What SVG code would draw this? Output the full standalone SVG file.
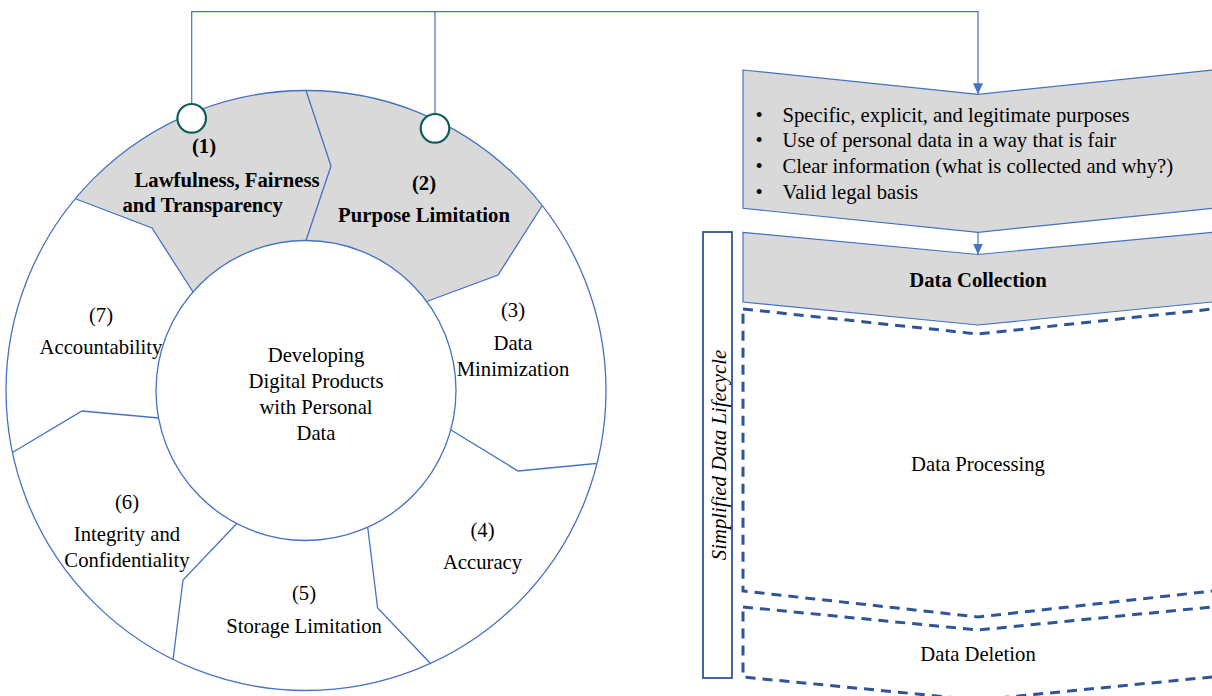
<svg xmlns="http://www.w3.org/2000/svg" width="1212" height="696" viewBox="0 0 1212 696">
  <defs>
    <marker id="arrow" markerUnits="userSpaceOnUse" markerWidth="10" markerHeight="11" refX="11" refY="5" orient="auto">
      <path d="M0,0 L11,5 L0,10 Z" fill="#4472C4"/>
    </marker>
    <style>
      text { font-family: "Liberation Serif", "Times New Roman", serif; font-size: 20.7px; fill: #000; }
      .b { font-weight: bold; }
      .c { text-anchor: middle; }
      .ring { fill: none; stroke: #4472C4; stroke-width: 1.3; }
      .seg { fill: #D9D9D9; stroke: none; }
      .div { fill: none; stroke: #4472C4; stroke-width: 1.3; stroke-linejoin: miter; }
      .chev { fill: #D9D9D9; stroke: #4472C4; stroke-width: 1.2; }
      .dash { fill: none; stroke: #2F5597; stroke-width: 3; stroke-dasharray: 10 7; }
      .conn { fill: none; stroke: #4472C4; stroke-width: 1.2; }
      .port { fill: #fff; stroke: #0F5A5A; stroke-width: 2.2; }
    </style>
  </defs>

  <rect width="1212" height="696" fill="#fff"/>

  <!-- principle ring -->
  <g id="principles-ring">
    <path class="seg" d="M76,199 A300 300 0 0 1 306,90.5 L331,166 L306,240.5 A150 150 0 0 0 193,292 L152,228 Z"/>
    <path class="seg" d="M306,90.5 A300 300 0 0 1 542,206 L498,275 L426.7,301.5 A150 150 0 0 0 306,240.5 L331,166 Z"/>
    <circle class="ring" cx="306" cy="390.5" r="300"/>
    <circle class="ring" cx="306" cy="390.5" r="150"/>
    <polyline class="div" points="306,90.5 331,166 306,240.5"/>
    <polyline class="div" points="76,199 152,228 193,292"/>
    <polyline class="div" points="542,206 498,275 426.7,301.5"/>
    <polyline class="div" points="451,430 518,471 596,463.5"/>
    <polyline class="div" points="367.7,527.2 377.6,608 431,664"/>
    <polyline class="div" points="236.8,523.5 183,580 173,660"/>
    <polyline class="div" points="159,418 82,411 12.4,452.5"/>
  </g>

  <g id="p1-lawfulness">
    <text class="b c" x="204" y="153">(1)</text>
    <text class="b" x="134.5" y="187">Lawfulness, Fairness</text>
    <text class="b" x="122.5" y="212">and Transparency</text>
  </g>
  <g id="p2-purpose">
    <text class="b c" x="424" y="190">(2)</text>
    <text class="b c" x="424" y="222">Purpose Limitation</text>
  </g>
  <g id="p3-minimization">
    <text class="c" x="513" y="317">(3)</text>
    <text class="c" x="513" y="350">Data</text>
    <text class="c" x="513" y="375.5">Minimization</text>
  </g>
  <g id="p4-accuracy">
    <text class="c" x="482.5" y="537">(4)</text>
    <text class="c" x="482.5" y="568.5">Accuracy</text>
  </g>
  <g id="p5-storage">
    <text class="c" x="304" y="600">(5)</text>
    <text class="c" x="304" y="633">Storage Limitation</text>
  </g>
  <g id="p6-integrity">
    <text class="c" x="127" y="508.5">(6)</text>
    <text class="c" x="127" y="541">Integrity and</text>
    <text class="c" x="127" y="567">Confidentiality</text>
  </g>
  <g id="p7-accountability">
    <text class="c" x="101" y="322">(7)</text>
    <text class="c" x="101" y="353.5">Accountability</text>
  </g>
  <g id="core">
    <text class="c" x="316" y="362">Developing</text>
    <text class="c" x="316" y="387.5">Digital Products</text>
    <text class="c" x="316" y="413.5">with Personal</text>
    <text class="c" x="316" y="439.5">Data</text>
  </g>

  <!-- connectors -->
  <g id="connectors">
    <path class="conn" d="M191.7,104 V11.7 H978 V94.3" marker-end="url(#arrow)"/>
    <path class="conn" d="M435,114 V11.7"/>
    <path class="conn" d="M978,232.5 V254.5" marker-end="url(#arrow)"/>
  </g>
  <g id="ports">
    <circle class="port" cx="191.7" cy="118.3" r="14.3"/>
    <circle class="port" cx="435" cy="128.3" r="14.3"/>
  </g>

  <!-- requirements chevron (right side runs past the page edge) -->
  <g id="requirements">
    <polygon class="chev" points="743,70 978,94.3 1222,69 1222,207.4 978,232.3 743,208.3"/>
    <text class="c" x="759" y="121.5">•</text>
    <text x="782.5" y="121.5">Specific, explicit, and legitimate purposes</text>
    <text class="c" x="759" y="147.3">•</text>
    <text x="782.5" y="147.3">Use of personal data in a way that is fair</text>
    <text class="c" x="759" y="173">•</text>
    <text x="782.5" y="173">Clear information (what is collected and why?)</text>
    <text class="c" x="759" y="198.5">•</text>
    <text x="782.5" y="198.5">Valid legal basis</text>
  </g>

  <!-- lifecycle label -->
  <g id="lifecycle-label">
    <rect x="703" y="232" width="29" height="446" fill="none" stroke="#2F5597" stroke-width="1.8"/>
    <text class="c" transform="translate(725.5,455) rotate(-90)" font-style="italic">Simplified Data Lifecycle</text>
  </g>

  <g id="data-collection">
    <polygon class="chev" points="743,232.3 978,254.5 1222,231.5 1222,301 978,325 743,302"/>
    <text class="b c" x="978" y="287.3">Data Collection</text>
  </g>

  <g id="data-processing">
    <polygon class="dash" points="743,309 978,334 1222,308 1222,590 978,617 743,591"/>
    <text class="c" x="978" y="471">Data Processing</text>
  </g>

  <g id="data-deletion">
    <polygon class="dash" points="743,607 978,630 1222,606 1222,676 978,700 743,677"/>
    <text class="c" x="978" y="661">Data Deletion</text>
  </g>
</svg>
